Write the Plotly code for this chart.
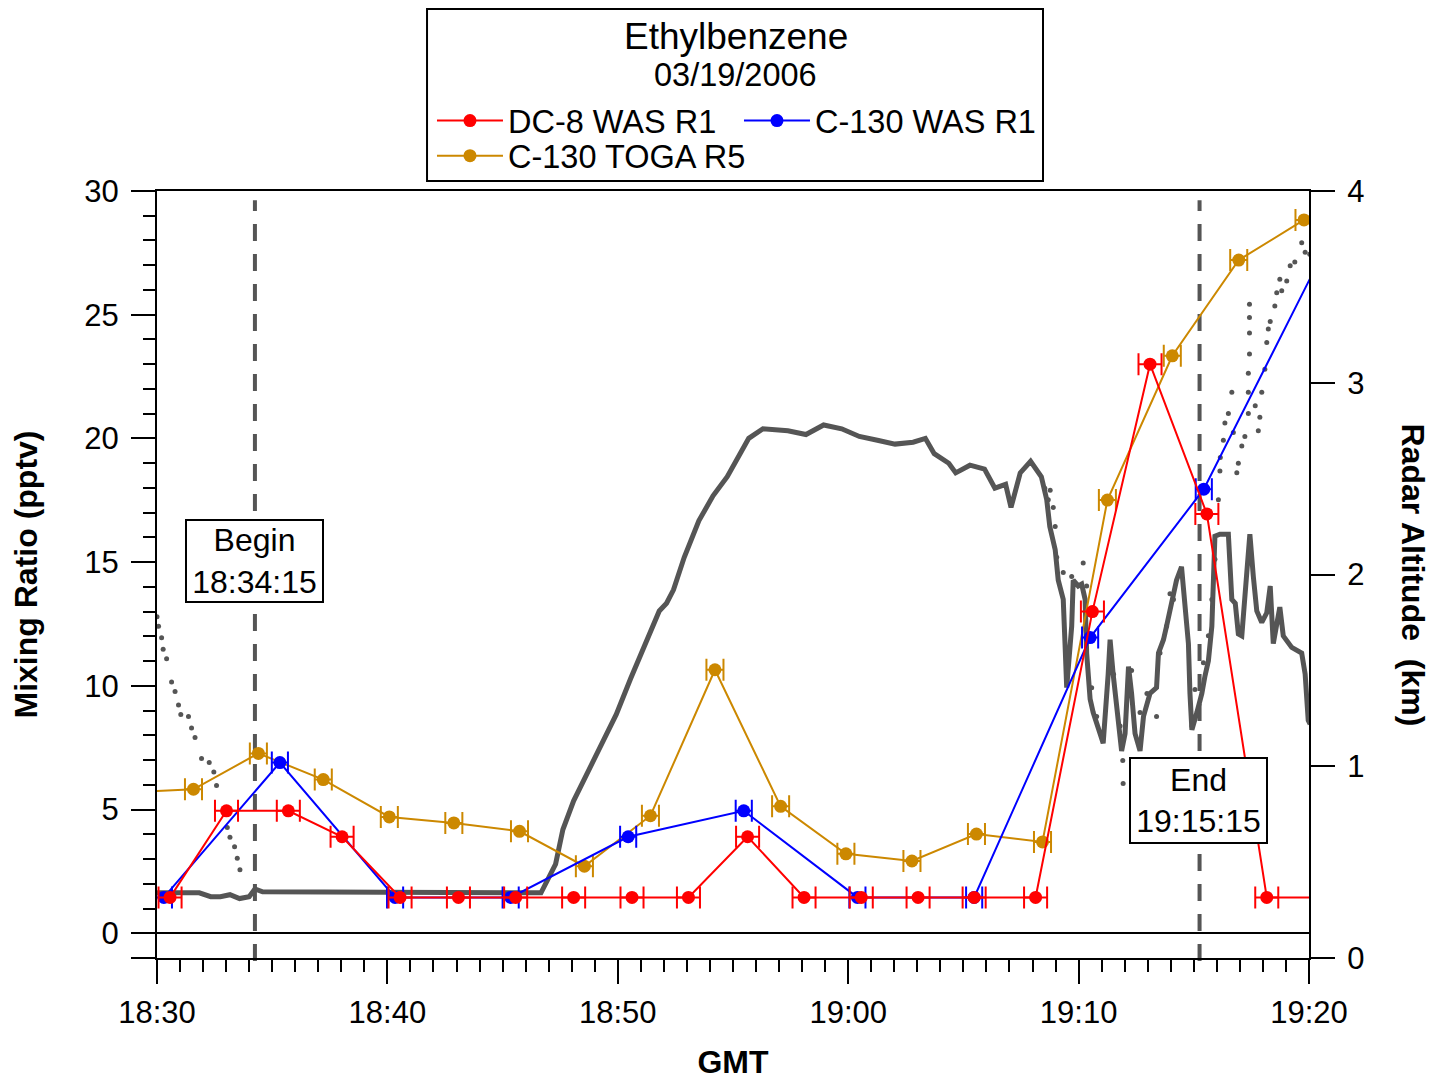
import plotly.graph_objects as go

# ---------------- data ----------------
tick_labels = ["18:30", "18:40", "18:50", "19:00", "19:10", "19:20"]
begin_time = "18:34:15"
end_time = "19:15:15"

dc8_was_time = ["18:30:34", "18:33:01", "18:35:42", "18:38:02", "18:40:33", "18:43:05",
                "18:45:34", "18:48:05", "18:50:37", "18:53:04", "18:55:38", "18:58:05",
                "19:00:34", "19:03:02", "19:05:28", "19:08:08", "19:10:36", "19:13:06",
                "19:15:34", "19:18:10", "19:20:40"]
dc8_was_val = [1.45, 4.95, 4.95, 3.9, 1.45, 1.45, 1.45, 1.45, 1.45, 1.45, 3.9, 1.45,
               1.45, 1.45, 1.45, 1.45, 13.0, 23.0, 16.95, 1.45, 1.45]

c130_was_time = ["18:30:18", "18:35:20", "18:40:20", "18:45:21", "18:50:27", "18:55:28",
                 "19:00:24", "19:05:28", "19:10:30", "19:15:26", "19:20:30"]
c130_was_val = [1.45, 6.9, 1.45, 1.45, 3.9, 4.95, 1.45, 1.45, 11.95, 17.95, 27.3]

c130_toga_time = ["18:28:48", "18:31:35", "18:34:24", "18:37:13", "18:40:05", "18:42:53",
                  "18:45:44", "18:48:33", "18:51:25", "18:54:13", "18:57:04", "18:59:54",
                  "19:02:46", "19:05:34", "19:08:26", "19:11:15", "19:14:04", "19:16:57",
                  "19:19:47"]
c130_toga_val = [5.7, 5.82, 7.27, 6.21, 4.70, 4.46, 4.12, 2.71, 4.75, 10.65, 5.13, 3.21,
                 2.92, 4.01, 3.69, 17.51, 23.34, 27.21, 28.83]

alt_time = ["18:30:00", "18:31:50", "18:32:20", "18:32:45", "18:33:10", "18:33:35",
            "18:34:00", "18:34:15", "18:34:35", "18:40:00", "18:46:40",
            "18:47:18", "18:47:37", "18:48:05", "18:48:42", "18:49:19", "18:49:56",
            "18:50:34", "18:51:11", "18:51:48", "18:52:07", "18:52:25", "18:52:53",
            "18:53:31", "18:54:08", "18:54:45", "18:55:13", "18:55:41", "18:56:18",
            "18:57:23", "18:58:10", "18:58:56", "18:59:43", "19:00:29", "19:01:16",
            "19:02:02", "19:02:49", "19:03:21", "19:03:44", "19:04:22", "19:04:40",
            "19:05:17", "19:05:55", "19:06:22", "19:06:50", "19:07:04", "19:07:28",
            "19:07:55", "19:08:23", "19:08:37", "19:08:45", "19:08:59", "19:09:07",
            "19:09:20", "19:09:25", "19:09:29", "19:09:42", "19:09:46", "19:09:59",
            "19:10:08", "19:10:17", "19:10:21", "19:10:30", "19:10:38", "19:10:56",
            "19:11:04", "19:11:17", "19:11:22", "19:11:30", "19:11:43", "19:11:52",
            "19:12:01", "19:12:10", "19:12:18", "19:12:27", "19:12:40", "19:12:49",
            "19:13:06", "19:13:23", "19:13:28", "19:13:41", "19:13:49", "19:13:58",
            "19:14:15", "19:14:28", "19:14:37", "19:14:46", "19:14:50", "19:14:55",
            "19:15:08", "19:15:21", "19:15:29", "19:15:38", "19:15:47", "19:15:51",
            "19:15:55", "19:16:08", "19:16:30", "19:16:39", "19:16:48", "19:16:56",
            "19:17:05", "19:17:18", "19:17:26", "19:17:35", "19:17:44", "19:17:57",
            "19:18:10", "19:18:19", "19:18:27", "19:18:44", "19:18:53", "19:19:15",
            "19:19:41", "19:19:50", "19:19:58", "19:20:03"]
alt_km = [0.34, 0.34, 0.32, 0.32, 0.33, 0.31,
          0.32, 0.36, 0.345, 0.34, 0.34,
          0.49, 0.67, 0.82, 0.97, 1.12, 1.27,
          1.46, 1.64, 1.81, 1.85, 1.92, 2.09,
          2.28, 2.41, 2.51, 2.61, 2.71, 2.76,
          2.75, 2.73, 2.78, 2.76, 2.72, 2.70,
          2.68, 2.69, 2.71, 2.63, 2.58, 2.53,
          2.57, 2.55, 2.45, 2.47, 2.35, 2.53,
          2.59, 2.51, 2.39, 2.25, 2.13, 1.97,
          1.87, 1.62, 1.41, 1.73, 1.97, 1.94,
          1.95, 1.87, 1.59, 1.35, 1.28, 1.17,
          1.12, 1.48, 1.66, 1.48, 1.22, 1.08,
          1.17, 1.52, 1.38, 1.17, 1.08, 1.26,
          1.38, 1.41, 1.59, 1.66, 1.73, 1.81,
          1.97, 2.04, 1.81, 1.64, 1.38, 1.19,
          1.28, 1.38, 1.47, 1.55, 1.73, 1.99,
          2.20, 2.21, 2.21, 1.87, 1.85, 1.69,
          1.68, 2.01, 2.21, 1.99, 1.81, 1.75,
          1.80, 1.94, 1.64, 1.83, 1.68, 1.62,
          1.59, 1.48, 1.24, 1.22]

alt2_time = ["18:30:00", "18:30:04", "18:30:12", "18:30:16", "18:30:25", "18:30:38",
             "18:30:47", "18:30:56", "18:31:02", "18:31:22", "18:31:30", "18:31:39",
             "18:31:56", "18:32:16", "18:32:28", "18:32:35", "18:33:03", "18:33:10",
             "18:33:22", "18:33:29", "18:33:36",
             "19:08:32", "19:08:41", "19:08:46", "19:08:54", "19:08:59", "19:09:03",
             "19:09:20", "19:09:42", "19:10:12", "19:10:21", "19:10:34", "19:10:47",
             "19:11:04", "19:11:31", "19:11:48", "19:11:55", "19:11:56", "19:12:18",
             "19:12:40", "19:12:58", "19:13:23", "19:13:32", "19:13:49", "19:14:07",
             "19:13:58", "19:14:55", "19:15:03", "19:15:25", "19:15:38", "19:15:47",
             "19:15:55", "19:16:04", "19:16:08", "19:16:09", "19:16:17", "19:16:21",
             "19:16:30", "19:16:39", "19:16:43", "19:16:52", "19:16:56", "19:17:05",
             "19:17:13", "19:17:22", "19:17:22", "19:17:22", "19:17:25", "19:17:25",
             "19:17:25", "19:17:25", "19:17:40", "19:17:48", "19:17:52", "19:17:57",
             "19:18:05", "19:18:10", "19:18:14", "19:18:19", "19:18:31", "19:18:36",
             "19:18:49", "19:18:44", "19:19:02", "19:19:11", "19:19:23", "19:19:41",
             "19:19:50", "19:20:02"]
alt2_km = [1.78, 1.73, 1.67, 1.61, 1.56, 1.44,
           1.39, 1.32, 1.27, 1.26, 1.20, 1.15,
           1.04, 1.02, 0.97, 0.90, 0.68, 0.63,
           0.58, 0.52, 0.46,
           2.45, 2.39, 2.44, 2.35, 2.25, 2.09,
           2.01, 1.99, 2.06, 1.94, 1.41, 1.26,
           1.17, 1.48, 1.21, 1.03, 0.91, 1.50,
           1.28, 1.38, 1.26, 1.59, 1.73, 1.87,
           1.90, 1.21, 1.40, 1.54, 1.68, 1.87,
           2.08, 2.39, 2.54, 2.61, 2.70, 2.79,
           2.84, 2.95, 2.74, 2.53, 2.58, 2.67,
           2.72, 2.84, 2.95, 3.05, 3.15, 3.26,
           3.34, 3.41, 2.88, 2.75, 2.82, 2.95,
           3.07, 3.21, 3.28, 3.32, 3.40, 3.47,
           3.48, 3.54, 3.53, 3.61, 3.63, 3.73,
           3.68, 3.67]

# ---------------- helpers ----------------
def to_min(s):
    h, m, sec = (int(p) for p in s.split(":"))
    return h * 60 + m + sec / 60.0 - (18 * 60 + 30)

RED = "#FF0000"
BLUE = "#0000FF"
GOLD = "#CC8800"
GRAY = "#555555"
FONT = "Liberation Sans, Arial, sans-serif"

fig = go.Figure()

# altitude (base axis, drawn underneath)
fig.add_trace(go.Scatter(
    x=[to_min(t) for t in alt_time], y=alt_km, mode="lines",
    line=dict(color=GRAY, width=5), showlegend=False, name="Radar Altitude",
    xaxis="x", yaxis="y"))
fig.add_trace(go.Scatter(
    x=[to_min(t) for t in alt2_time], y=alt2_km, mode="markers",
    marker=dict(color=GRAY, size=5), showlegend=False, name="Radar Altitude 2",
    xaxis="x", yaxis="y"))

# mixing ratios (overlay axis)
fig.add_trace(go.Scatter(
    x=[to_min(t) for t in c130_toga_time], y=c130_toga_val, mode="lines+markers",
    name="C-130 TOGA R5", legend="legend2",
    line=dict(color=GOLD, width=2), marker=dict(color=GOLD, size=13),
    error_x=dict(type="constant", value=0.37, color=GOLD, thickness=2, width=11),
    xaxis="x", yaxis="y2"))
fig.add_trace(go.Scatter(
    x=[to_min(t) for t in c130_was_time], y=c130_was_val, mode="lines+markers",
    name="C-130 WAS R1", legendrank=2,
    line=dict(color=BLUE, width=2), marker=dict(color=BLUE, size=13),
    error_x=dict(type="constant", value=0.35, color=BLUE, thickness=2, width=11),
    xaxis="x", yaxis="y2"))
fig.add_trace(go.Scatter(
    x=[to_min(t) for t in dc8_was_time], y=dc8_was_val, mode="lines+markers",
    name="DC-8 WAS R1", legendrank=1,
    line=dict(color=RED, width=2), marker=dict(color=RED, size=13),
    error_x=dict(type="constant", value=0.5, color=RED, thickness=2, width=11),
    xaxis="x", yaxis="y2"))

tickfont = dict(family=FONT, size=31, color="black")
titlefont = dict(family=FONT, size=32, color="black", weight="bold")
legfont = dict(family=FONT, size=32.5, color="black")

fig.update_layout(
    width=1427, height=1073, autosize=False,
    margin=dict(l=149, r=126, t=183, b=123, autoexpand=False),
    paper_bgcolor="white", plot_bgcolor="white",
    font=dict(family=FONT, color="black"),
    xaxis=dict(
        range=[0, 50], tickvals=[0, 10, 20, 30, 40, 50], ticktext=tick_labels,
        ticks="outside", ticklen=24, tickwidth=2, tickcolor="black",
        minor=dict(dtick=1, tick0=0, ticks="outside", ticklen=12, tickwidth=2, tickcolor="black"),
        showline=True, linecolor="black", linewidth=2, mirror=True, automargin=False,
        showgrid=False, zeroline=False, tickfont=tickfont, ticklabelstandoff=2,
        title=dict(text="GMT", font=titlefont, standoff=21),
    ),
    yaxis=dict(
        range=[0, 4], tickvals=[0, 1, 2, 3, 4], side="right", automargin=False,
        ticks="outside", ticklen=24, tickwidth=2, tickcolor="black",
        showline=True, linecolor="black", linewidth=2,
        showgrid=False, zeroline=False, tickfont=tickfont, ticklabelstandoff=6,
    ),
    yaxis2=dict(
        range=[-1, 30], overlaying="y", side="left", automargin=False,
        tickvals=[-1, 0, 5, 10, 15, 20, 25, 30], ticktext=["", "0", "5", "10", "15", "20", "25", "30"],
        ticks="outside", ticklen=24, tickwidth=2, tickcolor="black",
        minor=dict(dtick=1, tick0=0, ticks="outside", ticklen=12, tickwidth=2, tickcolor="black"),
        showline=True, linecolor="black", linewidth=2,
        showgrid=False, zeroline=True, zerolinecolor="black", zerolinewidth=2,
        tickfont=tickfont, ticklabelstandoff=6,
        title=dict(text="Mixing Ratio (pptv)", font=titlefont, standoff=40),
    ),
    legend=dict(
        orientation="h", x=0.2387, xanchor="left", y=1.0913, yanchor="middle",
        font=legfont, bgcolor="rgba(0,0,0,0)",
        entrywidth=226, entrywidthmode="pixels", itemwidth=66, traceorder="normal",
    ),
    legend2=dict(
        orientation="h", x=0.2387, xanchor="left", y=1.0456, yanchor="middle",
        font=legfont, bgcolor="rgba(0,0,0,0)", itemwidth=66,
    ),
)

# legend frame and title
fig.add_shape(type="rect", xref="paper", yref="paper", x0=0.2344, x1=0.7691, y0=1.0130, y1=1.2373,
              line=dict(color="black", width=2), fillcolor="white", layer="below")
fig.add_annotation(text="Ethylbenzene", xref="paper", yref="paper", x=0.5026, y=1.2008,
                   xanchor="center", yanchor="middle",
                   showarrow=False, font=dict(family=FONT, size=37, color="black"))
fig.add_annotation(text="03/19/2006", xref="paper", yref="paper", x=0.5026, y=1.1512,
                   xanchor="center", yanchor="middle",
                   showarrow=False, font=dict(family=FONT, size=32.5, color="black"))

# right axis title (reads top to bottom)
fig.add_annotation(text="Radar Altitude  (km)", xref="paper", yref="paper", x=1.0903, y=0.5,
                   xanchor="center", yanchor="middle",
                   textangle=90, showarrow=False, font=titlefont)

# begin / end markers
for t in (begin_time, end_time):
    fig.add_shape(type="line", xref="x", yref="paper", x0=to_min(t), x1=to_min(t), y0=-0.004, y1=0.988,
                  line=dict(color=GRAY, width=4, dash="17px,13px"), layer="below")

fig.add_annotation(text="Begin<br>" + begin_time, xref="x", yref="y2", x=to_min(begin_time), y=15.04,
                   showarrow=False, font=dict(family=FONT, size=32, color="black"),
                   bgcolor="white", bordercolor="black", borderwidth=2, borderpad=1,
                   width=133, height=78)
fig.add_annotation(text="End<br>" + end_time, xref="x", yref="y2", x=to_min(end_time) - 0.05, y=5.36,
                   showarrow=False, font=dict(family=FONT, size=32, color="black"),
                   bgcolor="white", bordercolor="black", borderwidth=2, borderpad=1,
                   width=133, height=81)

fig.write_html("out.html")
